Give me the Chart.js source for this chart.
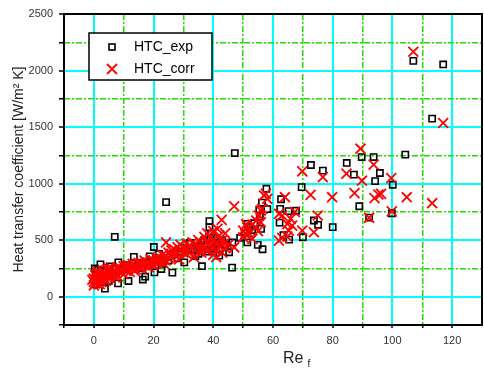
<!DOCTYPE html>
<html>
<head>
<meta charset="utf-8">
<title>HTC vs Re</title>
<script src="https://cdn.jsdelivr.net/npm/chart.js@4.4.0/dist/chart.umd.min.js"></script>
<style>
    html, body { margin: 0; padding: 0; background: #fff; }
    #wrap { width: 484px; height: 371px; }
</style>
</head>
<body>
<div id="wrap"><canvas id="htcChart" width="484" height="371"></canvas></div>
<script>
// Heat transfer coefficient vs Re_f - scatter

const xTicks = [0, 20, 40, 60, 80, 100, 120];
const xMinorTicks = [-10, 10, 30, 50, 70, 90, 110];
const yTicks = [0, 500, 1000, 1500, 2000, 2500];
const yMinorTicks = [-250, 250, 750, 1250, 1750, 2250];

const seriesLabels = ['HTC_exp', 'HTC_corr'];

// measured
const expRe = [
    107, 117, 113.3, 104.3, 89.7, 93.7, 72.7, 76.7, 84.7, 87.1, 95.8, 94.2, 100.1, 69.6, 57.8,
    88.9, 92.2, 99.8, 73.7, 75.1, 80, 70, 62.7, 56.3, 58.1, 55.4, 55.6, 62.4, 65.2, 67.7,
    62.2, 63.5, 65.4, 51.4, 54.9, 56.5, 51.5, 53.7, 47.2, 52, 50.5, 53, 56, 49,
    24.2, 38.7, 38.7, 39.2, 32.2, 36.2, 46.3, 26.3, 22.6, 30.3, 42, 42, 45.3, 46.4, 20.1,
    21.8, 33, 35, 37, 38, 40, 41, 43, 44, 35, 28, 27, 25, 23, 34, 29, 31, 40, 38, 31.7,
    7, 2.2, 5.3, 8.2, 13.4, 18.7, 3.7, 8.1, 11.6, 16.4, 17.2, 20.3, 1, 0.5, 1.5, 3, 4, 6,
    7, 9, 10, 11, 12, 14, 15, 16, 17, 18, 19, 2, 0.8, 5, 0.3, 0.6
];
const expHtc = [
    2086, 2054, 1575, 1256, 1235, 1235, 1165, 1115, 1183, 1080, 1094, 1022, 990, 969, 955,
    800, 700, 738, 674, 636, 615, 526, 862, 832, 775, 770, 709, 777, 757, 760,
    655, 545, 505, 481, 458, 420, 644, 650, 1270, 615, 560, 590, 600, 520,
    836, 668, 615, 556, 475, 270, 257, 213, 245, 304, 363, 423, 393, 481, 440,
    378, 420, 440, 500, 470, 520, 480, 500, 460, 380, 340, 380, 320, 290, 360, 400, 430, 430, 400, 408,
    530, 286, 269, 304, 352, 357, 72, 118, 139, 152, 177, 215, 200, 160, 240, 180, 220, 200,
    250, 230, 260, 280, 240, 270, 300, 250, 310, 280, 320, 130, 110, 140, 250, 190
];

// correlation
const corrRe = [
    107, 117, 89.3, 93.7, 69.8, 76.7, 84.6, 89.8, 99.6, 96.2, 104.8, 113.3, 99.8, 72.6, 79.8,
    87.3, 94, 95.3, 92.2, 75, 73.7, 69.8, 57, 58.1, 64, 57.6, 55.9, 56.4, 55.3, 55.9,
    62, 63.1, 67.3, 64.8, 66.4, 65.3, 65.9, 62, 63.1, 64.8, 47, 42.8, 47, 54.4, 53.1,
    51.4, 50, 50.7, 54.2, 53.1, 50, 52, 55, 51,
    0, 0, 0, 0.5, 0.5, 1, 1, 1.5, 1.5, 2, 2, 2.5, 3, 3, 3.5, 4, 4, 4.5, 5, 5, 5.5, 6, 6,
    6.5, 7, 7.5, 8, 8, 9, 9, 10, 10, 10.5, 11, 11.5, 12, 12, 13, 13, 14, 14, 15, 15,
    16, 16, 17, 17, 18, 18, 19, 19, 20, 20, 21, 21, 22, 22, 23, 23, 24, 24, 24.2, 25, 25,
    26, 26, 27, 27, 28, 28, 29, 29, 30, 30, 31, 31, 32, 32, 33, 33, 34, 34, 35, 35, 36, 36,
    37, 37, 38, 38, 38, 39, 39, 40, 40, 40, 40, 41, 41, 41.4, 42, 42, 43, 43, 44, 44, 45,
    -0.5, 1, 2, 3.5, 5, 7, 8.5, 11, 13.5, 16, 18.5, 21, 23.5, 26, 28.5, 31, 33.5, 36, 38.5, 41, 43.5
];
const corrHtc = [
    2166, 1536, 1309, 1168, 1109, 1058, 1088, 1026, 1049, 910, 880, 827, 755, 901, 880,
    916, 872, 904, 698, 718, 570, 585, 895, 866, 880, 910, 762, 777, 718, 659,
    733, 718, 750, 644, 629, 585, 689, 496, 520, 532, 800, 680, 437, 674, 638,
    609, 585, 556, 615, 511, 526, 560, 580, 640,
    100, 130, 160, 120, 190, 140, 210, 110, 170, 150, 200, 130, 180, 230, 160, 200, 140, 240, 180, 220, 160, 200, 250,
    190, 230, 210, 180, 260, 220, 250, 200, 270, 240, 230, 280, 220, 260, 250, 290, 240, 270, 260, 300,
    250, 290, 280, 320, 270, 300, 290, 330, 280, 320, 300, 340, 310, 350, 330, 370, 320, 360, 480, 340, 390,
    350, 410, 370, 420, 380, 440, 400, 460, 390, 430, 420, 470, 400, 450, 430, 480, 410, 460, 440, 500, 390, 470,
    430, 530, 400, 480, 560, 450, 520, 370, 430, 500, 580, 410, 480, 600, 450, 540, 390, 500, 430, 560, 460,
    150, 230, 110, 210, 250, 170, 230, 270, 230, 300, 260, 310, 290, 380, 330, 380, 350, 430, 470, 350, 470
];

const toPoints = (xs, ys) => xs.map((x, i) => ({ x: x, y: ys[i] }));

const fixTicks = (values) => (axis) => {
    axis.ticks = values.map(v => ({ value: v }));
};
const fixWidth = (w) => (axis) => { axis.width = w; };
const fixHeight = (h) => (axis) => {
    axis.height = h;
    axis.paddingLeft = 0;
    axis.paddingRight = 0;
};

const frame = {
    id: 'frame',
    afterDraw(chart) {
        const { ctx, chartArea: a } = chart;
        ctx.save();
        ctx.strokeStyle = '#000';
        ctx.lineWidth = 2;
        ctx.strokeRect(a.left, a.top, a.right - a.left, a.bottom - a.top);
        ctx.restore();
    }
};

const xTitle = {
    id: 'xTitle',
    afterDraw(chart) {
        const { ctx, chartArea: a } = chart;
        const x0 = (a.left + a.right) / 2 + 10;
        ctx.save();
        ctx.fillStyle = '#222';
        ctx.textBaseline = 'alphabetic';
        ctx.font = '16px Arial, "Liberation Sans"';
        ctx.fillText('Re', x0, a.bottom + 38);
        const w = ctx.measureText('Re').width;
        ctx.font = '10px Arial, "Liberation Sans"';
        ctx.fillText('f', x0 + w + 4, a.bottom + 42);
        ctx.restore();
    }
};

const legendBox = {
    id: 'legendBox',
    afterDraw(chart) {
        const { ctx, chartArea: a } = chart;
        const left = a.left + 25, top = a.top + 19;
        ctx.save();
        ctx.fillStyle = '#fff';
        ctx.fillRect(left, top, 123, 47);
        ctx.strokeStyle = '#000';
        ctx.lineWidth = 1.5;
        ctx.strokeRect(left, top, 123, 47);

        // square marker
        ctx.lineWidth = 1.6;
        ctx.strokeRect(left + 20, top + 11, 6, 6);
        // cross marker
        ctx.strokeStyle = '#ff0000';
        ctx.lineWidth = 1.8;
        ctx.beginPath();
        ctx.moveTo(left + 18, top + 31);
        ctx.lineTo(left + 28, top + 41);
        ctx.moveTo(left + 28, top + 31);
        ctx.lineTo(left + 18, top + 41);
        ctx.stroke();

        ctx.fillStyle = '#000';
        ctx.font = '14px Arial, "Liberation Sans"';
        ctx.textBaseline = 'middle';
        ctx.fillText(seriesLabels[0], left + 45, top + 14);
        ctx.fillText(seriesLabels[1], left + 45, top + 36);
        ctx.restore();
    }
};

new Chart(document.getElementById('htcChart'), {
    type: 'scatter',
    data: {
        datasets: [{
            label: seriesLabels[0],
            data: toPoints(expRe, expHtc),
            pointStyle: 'rect',
            pointRadius: 4.4,
            borderWidth: 1.6,
            borderColor: '#000',
            backgroundColor: 'rgba(0, 0, 0, 0)',
            order: 1
        }, {
            label: seriesLabels[1],
            data: toPoints(corrRe, corrHtc),
            pointStyle: 'crossRot',
            pointRadius: 7,
            borderWidth: 1.8,
            borderColor: '#ff0000',
            backgroundColor: '#ff0000',
            order: 0
        }]
    },
    options: {
        responsive: false,
        animation: false,
        devicePixelRatio: 1,
        layout: {
            autoPadding: false,
            padding: { left: 0, right: 2, top: 14, bottom: 0 }
        },
        plugins: {
            legend: { display: false },
            tooltip: { enabled: false }
        },
        scales: {
            x: {
                type: 'linear',
                position: 'bottom',
                min: -10,
                max: 130,
                afterBuildTicks: fixTicks(xTicks),
                afterFit: fixHeight(46),
                grid: {
                    color: '#00ffff',
                    lineWidth: 2,
                    tickColor: '#000',
                    tickLength: 3,
                    tickWidth: 1.5
                },
                border: { display: false },
                ticks: {
                    color: '#333',
                    autoSkip: false,
                    maxRotation: 0,
                    padding: 6,
                    font: { size: 11, family: 'Arial, "Liberation Sans"' }
                }
            },
            xMinor: {
                type: 'linear',
                position: 'bottom',
                weight: -1,
                min: -10,
                max: 130,
                afterBuildTicks: fixTicks(xMinorTicks),
                afterFit: fixHeight(0),
                grid: {
                    color: (c) => c.tick && c.tick.value === -10 ? 'rgba(0,0,0,0)' : '#22dd00',
                    lineWidth: 1.5,
                    tickColor: '#000',
                    tickLength: 3,
                    tickWidth: 1.5
                },
                border: { display: false, dash: [6, 2, 2, 2] },
                ticks: { display: false }
            },
            y: {
                type: 'linear',
                position: 'left',
                min: -250,
                max: 2500,
                afterBuildTicks: fixTicks(yTicks),
                afterFit: fixWidth(64),
                grid: {
                    color: '#00ffff',
                    lineWidth: 2,
                    tickColor: '#000',
                    tickLength: 5,
                    tickWidth: 1.5
                },
                border: { display: false },
                ticks: {
                    color: '#333',
                    autoSkip: false,
                    padding: 6,
                    callback: (v) => String(v),
                    font: { size: 11, family: 'Arial, "Liberation Sans"' }
                },
                title: {
                    display: true,
                    text: 'Heat transfer coefficient [W/m\u00B2 K]',
                    color: '#222',
                    font: { size: 14, family: 'Arial, "Liberation Sans"' },
                    padding: { top: 11, bottom: 0 }
                }
            },
            yMinor: {
                type: 'linear',
                position: 'left',
                weight: -1,
                min: -250,
                max: 2500,
                afterBuildTicks: fixTicks(yMinorTicks),
                afterFit: fixWidth(0),
                grid: {
                    color: (c) => c.tick && c.tick.value === -250 ? 'rgba(0,0,0,0)' : '#22dd00',
                    lineWidth: 1.5,
                    tickColor: '#000',
                    tickLength: 5,
                    tickWidth: 1.5
                },
                border: { display: false, dash: [6, 2, 2, 2] },
                ticks: { display: false }
            }
        }
    },
    plugins: [frame, xTitle, legendBox]
});
</script>
</body>
</html>
